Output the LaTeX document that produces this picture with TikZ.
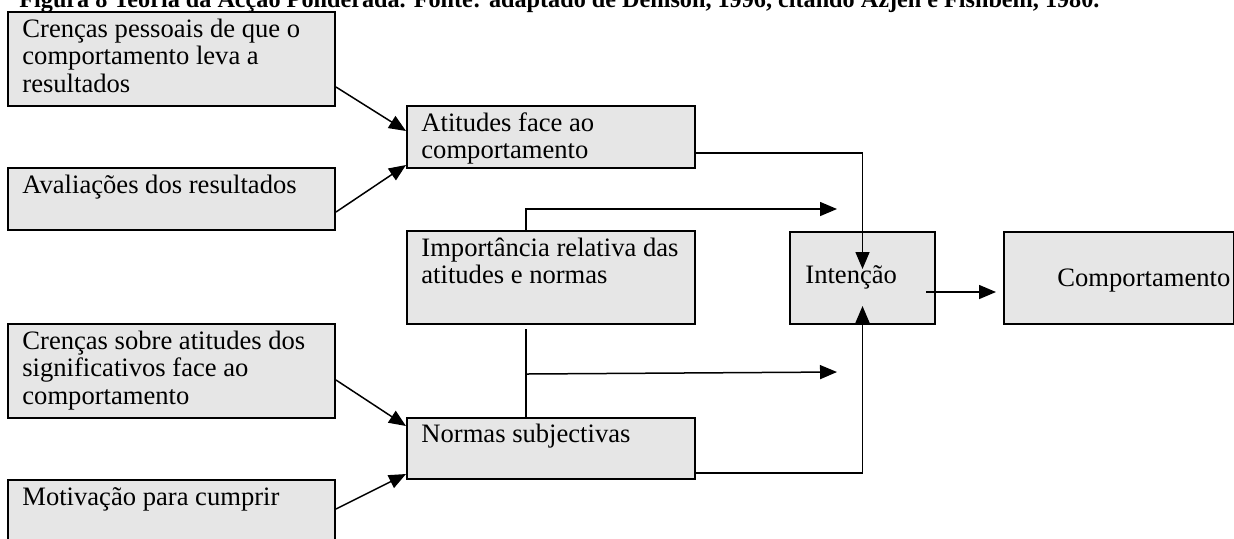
\documentclass[tikz,border=0pt]{standalone}
\usepackage{fontspec}
\setmainfont{Liberation Serif}
\usetikzlibrary{arrows.meta,calc}
\definecolor{boxfill}{RGB}{230,230,230}
\begin{document}
\begin{tikzpicture}[x=0.5pt,y=-0.5pt,
  box/.style={draw=black,line width=1pt,fill=boxfill,rectangle,inner sep=0pt,anchor=north west},
  txt/.style={anchor=base west,inner sep=0pt,font=\fontsize{13.3}{13.75}\selectfont},
  conn/.style={line width=0.75pt,-{Triangle[length=8.5pt,width=7pt]}},
  plain/.style={line width=0.75pt},
]
\useasboundingbox (0,0) rectangle (1234,538);

% caption (its upper part runs off the page)
\node[anchor=base west,inner sep=0pt,font=\fontsize{12.1}{13.75}\selectfont\bfseries] (title) at (19,7)
  {Figura 8 Teoria da Acção Ponderada. Fonte: adaptado de Denison, 1996, citando Azjen e Fishbein, 1980.};

% boxes
\node[box,minimum width=163.5pt,minimum height=47pt]   (A) at (7,11) {};
\node[box,minimum width=163.5pt,minimum height=31pt]   (B) at (7,167) {};
\node[box,minimum width=144pt,minimum height=31pt]     (C) at (406,105) {};
\node[box,minimum width=144pt,minimum height=46.5pt]   (D) at (406,230) {};
\node[box,minimum width=72.5pt,minimum height=46pt]    (E) at (789,231) {};
\node[box,minimum width=115pt,minimum height=46pt]     (F) at (1003,231) {};
\node[box,minimum width=163.5pt,minimum height=47pt]   (G) at (7,323) {};
\node[box,minimum width=163.5pt,minimum height=45pt]   (H) at (7,479) {};
\node[box,minimum width=144pt,minimum height=30.5pt]   (I) at (406,417) {};

% box texts
\node[txt] (At) at ($(A.north west)+(15,26)$) {\parbox[t]{200pt}{Crenças pessoais de que o\\comportamento leva a\\resultados}};
\node[txt] (Bt) at ($(B.north west)+(15,26)$) {Avaliações dos resultados};
\node[txt] (Ct) at ($(C.north west)+(15,26)$) {\parbox[t]{200pt}{Atitudes face ao\\comportamento}};
\node[txt] (Dt) at ($(D.north west)+(15,26)$) {\parbox[t]{200pt}{Importância relativa das\\atitudes e normas}};
\node[txt] (Et) at ($(E.north west)+(16,52)$) {Intenção};
\node[txt] (Ft) at ($(F.north west)+(54,55)$) {Comportamento};
\node[txt] (Gt) at ($(G.north west)+(15,26)$) {\parbox[t]{200pt}{Crenças sobre atitudes dos\\significativos face ao\\comportamento}};
\node[txt] (Ht) at ($(H.north west)+(15,26)$) {Motivação para cumprir};
\node[txt] (It) at ($(I.north west)+(15,25)$) {Normas subjectivas};

% connectors
\draw[conn] ($(A.south east)+(0,-20)$) -- ($(C.north west)+(0,26)$);
\draw[conn] ($(B.south east)+(0,-19)$) -- ($(C.south west)+(0,-4)$);
\draw[conn] ($(G.south east)+(0,-39)$) -- ($(I.north west)+(0,9)$);
\draw[conn] ($(H.north east)+(0,30)$) -- ($(I.south west)+(0,-6)$);
\draw[conn] ($(C.south east)+(0,-16)$) -| ($(E.north)+(0,38)$);
\draw[conn] ($(I.south east)+(0,-7)$) -| ($(E.south)+(0,-19)$);

\coordinate (w1) at (837,209);
\coordinate (w2) at (837,372);
\coordinate (j) at ($(D.south west)+(120,49)$);
\draw[conn] ($(D.north west)+(120,0)$) |- (w1);
\draw[plain] ($(D.south west)+(120,4)$) -- ($(I.north west)+(120,1)$);
\draw[conn] (j) -- (w2);

\draw[conn] ($(E.east)+(-10,14)$) -- ($(F.west)+(-7,14)$);
\end{tikzpicture}
\end{document}
